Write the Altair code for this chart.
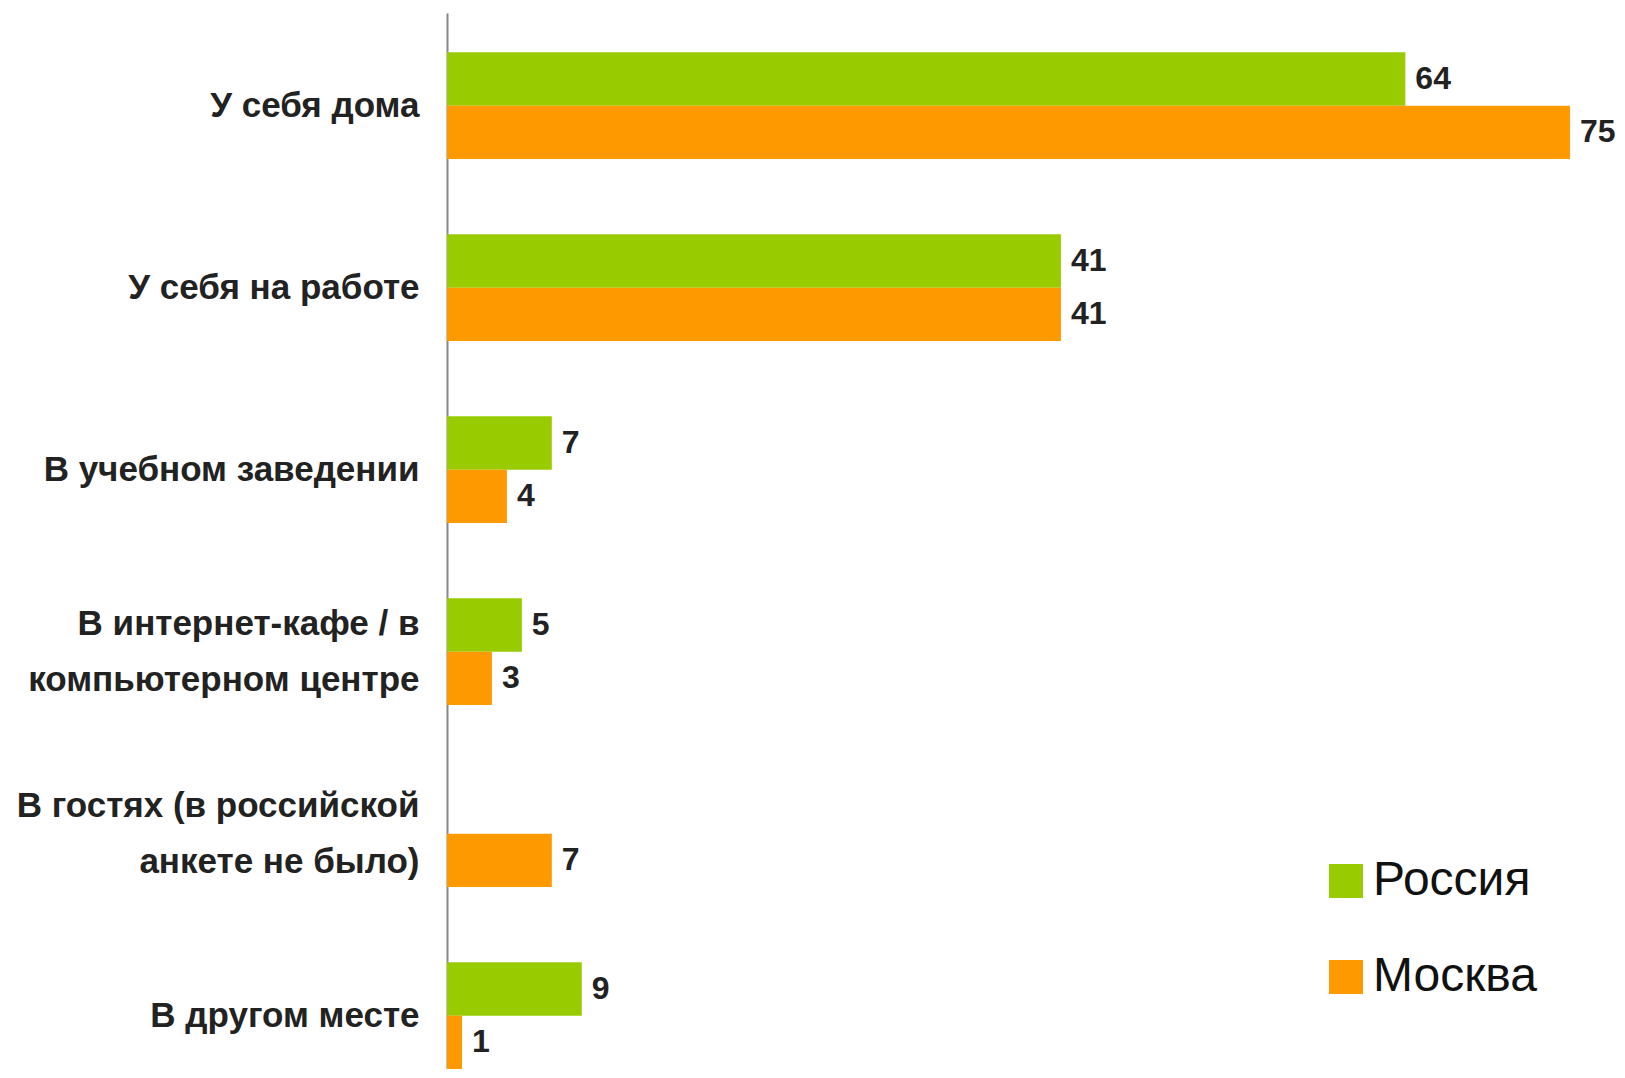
import altair as alt
import pandas as pd

categories = [
    "У себя дома",
    "У себя на работе",
    "В учебном заведении",
    "В интернет-кафе / в|компьютерном центре",
    "В гостях (в российской|анкете не было)",
    "В другом месте",
]
series = ["Россия", "Москва"]
russia = [64, 41, 7, 5, None, 9]
moscow = [75, 41, 4, 3, 7, 1]
colors = ["#99CC00", "#FF9900"]

rows = []
for c, r, m in zip(categories, russia, moscow):
    if r is not None:
        rows.append({"cat": c, "series": series[0], "value": r})
    if m is not None:
        rows.append({"cat": c, "series": series[1], "value": m})
df = pd.DataFrame(rows)

FONT = "Liberation Sans"

y_enc = alt.Y(
    "cat:N",
    sort=categories,
    title=None,
    scale=alt.Scale(paddingInner=0.414, paddingOuter=0.108, align=1),
    axis=alt.Axis(
        labelExpr="split(datum.label, '|')",
        ticks=False,
        domainColor="#888888",
        domainWidth=2,
        labelFont=FONT,
        labelFontSize=35,
        labelFontWeight="bold",
        labelColor="#222222",
        labelPadding=28,
        labelLineHeight=56,
        labelLimit=0,
        labelOffset={"condition": {"test": "indexof(datum.value, '|') >= 0", "value": -28}, "value": 0},
        minExtent=434,
        maxExtent=434,
    ),
)
yoff = alt.YOffset("series:N", sort=series, scale=alt.Scale(domain=series, paddingInner=0))
x_enc = alt.X("value:Q", axis=None, scale=alt.Scale(domain=[0, 77], nice=False))

bars = alt.Chart(df).mark_bar(cornerRadius=0).encode(
    y=y_enc,
    yOffset=yoff,
    x=x_enc,
    color=alt.Color(
        "series:N",
        sort=series,
        scale=alt.Scale(domain=series, range=colors),
        legend=alt.Legend(
            title=None,
            orient="none",
            legendX=875,
            legendY=844,
            symbolType="square",
            symbolSize=1156,
            symbolStrokeWidth=0,
            labelFont=FONT,
            labelFontSize=48,
            labelColor="#111111",
            labelOffset=3,
            labelLimit=0,
            rowPadding=48,
        ),
    ),
)

labels = alt.Chart(df).mark_text(
    align="left", baseline="middle", dx=10, font=FONT, fontSize=32, fontWeight="bold", color="#222222"
).encode(
    y=alt.Y("cat:N", sort=categories),
    yOffset=alt.YOffset("series:N", sort=series),
    x="value:Q",
    text="value:Q",
)

chart = (
    alt.layer(bars, labels)
    .properties(
        width=1153,
        height=1056,
        background="white",
        padding={"left": 5, "top": 5, "right": 0, "bottom": 0},
    )
    .configure_view(strokeWidth=0, stroke="transparent")
)

chart.save("out.html", embed_options={"renderer": "svg", "actions": False})
